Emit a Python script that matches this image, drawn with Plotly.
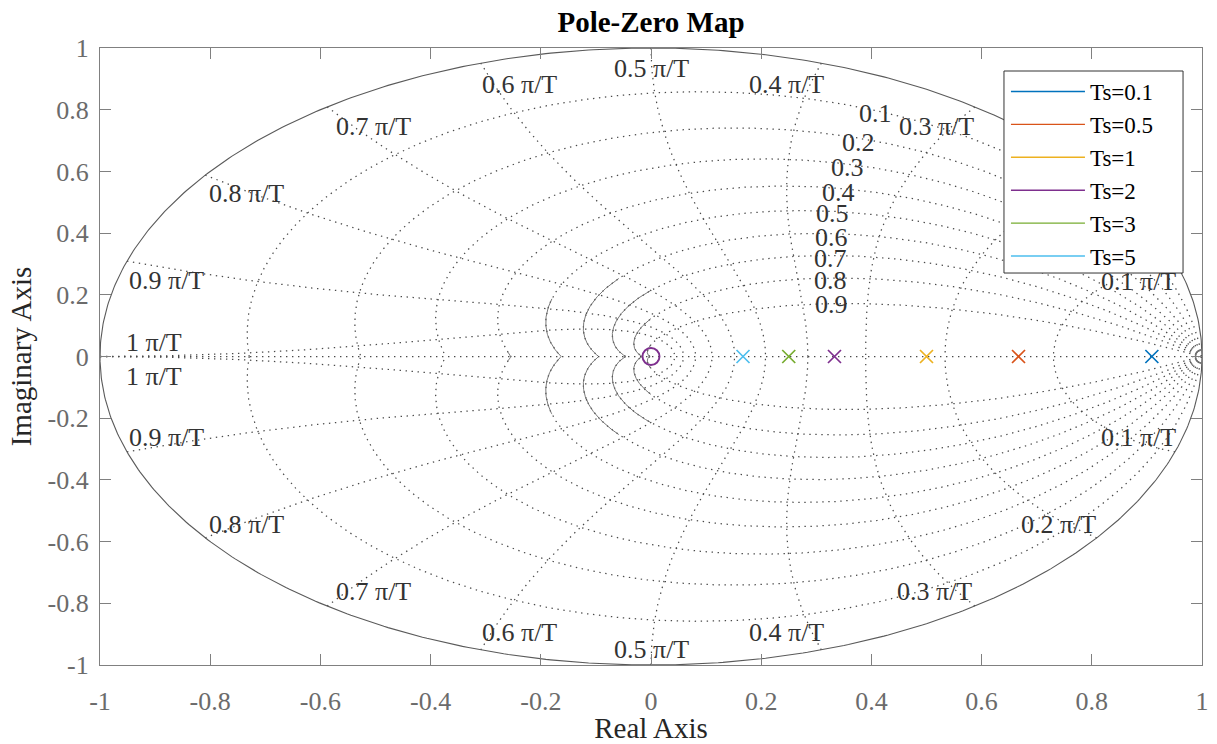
import numpy as np
import plotly.graph_objects as go

# ---------------- data ----------------
series_names = ["Ts=0.1", "Ts=0.5", "Ts=1", "Ts=2", "Ts=3", "Ts=5"]
series_colors = ["#0072BD", "#D95319", "#EDB120", "#7E2F8E", "#77AC30", "#4DBEEE"]
pole_re = [0.909, 0.667, 0.5, 0.333, 0.25, 0.167]
pole_im = [0.0, 0.0, 0.0, 0.0, 0.0, 0.0]
zero_re = [0.0]          # zero of Ts=2 (drawn on top)
zero_im = [0.0]
grid_zero_re = [1.0]     # gray circle at z = 1
grid_zero_im = [0.0]

# z-grid parameters
zeta_values = [0.1, 0.2, 0.3, 0.4, 0.5, 0.6, 0.7, 0.8, 0.9]
wn_values = [0.1, 0.2, 0.3, 0.4, 0.5, 0.6, 0.7, 0.8, 0.9, 1.0]  # multiples of pi/T

zeta_label_text = ["0.1", "0.2", "0.3", "0.4", "0.5", "0.6", "0.7", "0.8", "0.9"]
zeta_label_x = [0.408, 0.377, 0.356, 0.341, 0.330, 0.328, 0.325, 0.325, 0.328]
zeta_label_y = [0.789, 0.695, 0.614, 0.533, 0.462, 0.387, 0.319, 0.245, 0.167]

wn_label_text = ["0.1 π/T", "0.3 π/T", "0.4 π/T", "0.5 π/T", "0.6 π/T", "0.7 π/T",
                 "0.8 π/T", "0.9 π/T", "1 π/T",
                 "0.1 π/T", "0.2 π/T", "0.3 π/T", "0.4 π/T", "0.5 π/T", "0.6 π/T",
                 "0.7 π/T", "0.8 π/T", "0.9 π/T", "1 π/T"]
wn_label_x = [0.884, 0.519, 0.245, 0.0, -0.238, -0.503, -0.735, -0.880, -0.902,
              0.884, 0.739, 0.515, 0.245, 0.0, -0.238, -0.503, -0.735, -0.880, -0.902]
wn_label_y = [0.242, 0.744, 0.883, 0.935, 0.883, 0.744, 0.530, 0.245, 0.044,
              -0.264, -0.546, -0.763, -0.896, -0.951, -0.896, -0.763, -0.543, -0.264, -0.066]

tick_vals = [-1, -0.8, -0.6, -0.4, -0.2, 0, 0.2, 0.4, 0.6, 0.8, 1]
tick_text = ["-1", "-0.8", "-0.6", "-0.4", "-0.2", "0", "0.2", "0.4", "0.6", "0.8", "1"]

# ---------------- styles ----------------
FONT = "Liberation Serif, Times New Roman, serif"
GRID_COLOR = "#4a4a4a"
AXIS_COLOR = "#808080"
DOT = "1.4px,4.6px"

fig = go.Figure()


def add_line(xs, ys, dash, width=1.0, color=GRID_COLOR):
    fig.add_trace(go.Scatter(x=xs, y=ys, mode="lines", hoverinfo="skip", showlegend=False,
                             line=dict(color=color, width=width, dash=dash)))


# damping (zeta) lines
for zeta in zeta_values:
    th = np.linspace(0, np.pi, 700)
    r = np.exp(-zeta * th / np.sqrt(1 - zeta ** 2))
    x = r * np.cos(th)
    y = r * np.sin(th)
    xs = list(x) + [None] + list(x)
    ys = list(y) + [None] + list(-y)
    add_line(xs, ys, DOT, 1.25)
    mask = (r < 0.26) & (x < 0)
    if mask.any():
        xm = x[mask]
        ym = y[mask]
        xs2 = list(xm) + list(xm[::-1])
        ys2 = list(ym) + list(-ym[::-1])
        add_line(xs2, ys2, "solid", 0.9, "#6a6a6a")

# natural-frequency lines
for wn in wn_values:
    w = wn * np.pi
    zt = np.linspace(0, 1, 400)
    r = np.exp(-zt * w)
    ang = w * np.sqrt(1 - zt ** 2)
    x = r * np.cos(ang)
    y = r * np.sin(ang)
    xs = list(x) + [None] + list(x)
    ys = list(y) + [None] + list(-y)
    add_line(xs, ys, DOT, 1.25)

# real axis (dotted)
add_line([-1, 1], [0, 0], DOT, 1.25)

# unit circle
t = np.linspace(0, 2 * np.pi, 721)
add_line(np.cos(t), np.sin(t), "solid", 1.1, "#5a5a5a")

# gray circle at z=1
fig.add_trace(go.Scatter(x=grid_zero_re, y=grid_zero_im, mode="markers", showlegend=False,
                         hoverinfo="skip", cliponaxis=True,
                         marker=dict(symbol="circle-open", size=13, color="#777777",
                                     line=dict(width=1.3, color="#777777"))))

# poles
for name, c, xr, yi in zip(series_names, series_colors, pole_re, pole_im):
    fig.add_trace(go.Scatter(x=[xr], y=[yi], mode="markers", name=name, legendgroup=name,
                             showlegend=False,
                             marker=dict(symbol="x-thin", size=13, color=c,
                                         line=dict(width=1.7, color=c))))

# zero of Ts=2
fig.add_trace(go.Scatter(x=zero_re, y=zero_im, mode="markers", showlegend=False,
                         legendgroup=series_names[3],
                         marker=dict(symbol="circle-open", size=17, color=series_colors[3],
                                     line=dict(width=1.9, color=series_colors[3]))))

# legend entries (lines like MATLAB)
for name, c in zip(series_names, series_colors):
    fig.add_trace(go.Scatter(x=[None], y=[None], mode="lines", name=name, legendgroup=name,
                             line=dict(color=c, width=1.4)))

annotations = []
for txt, x, y in zip(zeta_label_text, zeta_label_x, zeta_label_y):
    annotations.append(dict(x=x, y=y, xref="x", yref="y", text=txt, showarrow=False,
                            font=dict(family=FONT, size=26, color="#333333")))
for txt, x, y in zip(wn_label_text, wn_label_x, wn_label_y):
    annotations.append(dict(x=x, y=y, xref="x", yref="y", text=txt, showarrow=False,
                            font=dict(family=FONT, size=26, color="#333333")))

axis_common = dict(range=[-1, 1], tickvals=tick_vals, ticktext=tick_text, ticks="inside",
                   ticklen=11, tickwidth=1, tickcolor=AXIS_COLOR, showline=True,
                   linecolor=AXIS_COLOR, linewidth=1.3, mirror="ticks", showgrid=False,
                   zeroline=False, automargin=False,
                   tickfont=dict(family=FONT, size=26, color="#6b6b6b"))

# legend frame (white box covering the grid, like MATLAB's legend)
legend_box = dict(type="rect", xref="paper", yref="paper",
                  x0=0.8203, x1=0.9828, y0=0.6353, y1=0.9627,
                  fillcolor="white", line=dict(color="#333333", width=1), layer="above")

fig.update_layout(
    width=1217, height=744, autosize=False,
    margin=dict(l=100, r=15, t=48, b=79),
    paper_bgcolor="white", plot_bgcolor="white",
    title=dict(text="<b>Pole-Zero Map</b>", x=0.5, xref="paper", xanchor="center",
               y=1 - 22 / 744, yref="container", yanchor="middle",
               font=dict(family=FONT, size=29, color="black")),
    xaxis=dict(**axis_common, ticklabelstandoff=13,
               title=dict(text="Real Axis", standoff=10,
                          font=dict(family=FONT, size=29, color="#262626"))),
    yaxis=dict(**axis_common, ticklabelstandoff=5,
               title=dict(text="Imaginary Axis", standoff=7,
                          font=dict(family=FONT, size=29, color="#262626"))),
    legend=dict(x=0.8221, xanchor="left", y=0.9643, yanchor="top",
                bgcolor="rgba(0,0,0,0)", borderwidth=0,
                font=dict(family=FONT, size=23, color="black"), itemwidth=74,
                tracegroupgap=0),
    shapes=[legend_box],
    annotations=annotations,
    showlegend=True,
)

fig.write_html("out.html", config={"displayModeBar": False},
               post_script="document.body.style.margin='0';")
